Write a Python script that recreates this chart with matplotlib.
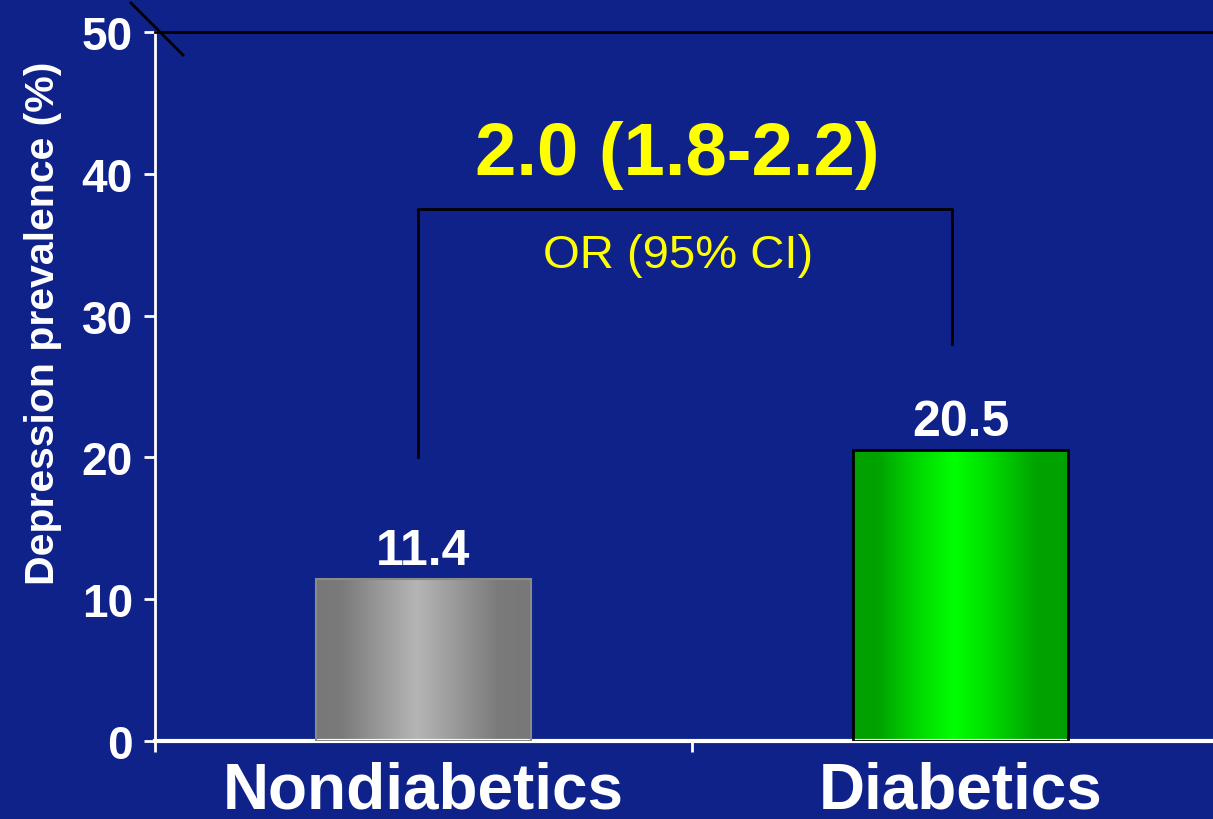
"""
Depression prevalence bar chart: nondiabetics vs diabetics, with odds ratio bracket.
"""
import numpy as np
import matplotlib
matplotlib.use("Agg")

import matplotlib.pyplot as plt
from matplotlib.lines import Line2D

plt.rcParams["font.family"] = ["Liberation Sans", "DejaVu Sans"]

# data
categories = ["Nondiabetics", "Diabetics"]
prevalence = [11.4, 20.5]
y_ticks = [0, 10, 20, 30, 40, 50]
or_text = "2.0 (1.8-2.2)"
or_caption = "OR (95% CI)"
# bracket joining the two groups: x ends and the heights where each leg stops
bracket_x = [-0.01, 0.985]
bracket_top = 37.5
bracket_legs = [20.0, 28.0]

BG = "#0e228a"
YELLOW = "#ffff00"

# horizontal shading profile of each bar (position across bar -> colour)
prof_pos = [0.0, 0.12, 0.30, 0.47, 0.62, 0.85, 1.0]
gray_lvl = [0.47, 0.48, 0.60, 0.71, 0.62, 0.48, 0.47]
green_lvl = [0.63, 0.64, 0.85, 1.00, 0.88, 0.64, 0.63]


def gradient_image(levels, kind):
    xs = np.linspace(0, 1, 256)
    v = np.interp(xs, prof_pos, levels)
    img = np.zeros((1, 256, 3))
    if kind == "gray":
        img[0, :, 0] = v
        img[0, :, 1] = v
        img[0, :, 2] = v
    else:
        img[0, :, 1] = v
    return img


fig = plt.figure(figsize=(12.13, 8.2), dpi=100)
fig.patch.set_facecolor(BG)
ax = fig.add_axes([155 / 1213, 78 / 820, (1229 - 155) / 1213, (742 - 33) / 820])
ax.set_facecolor(BG)

x = np.arange(len(categories))
bars = ax.bar(x, prevalence, width=0.4, facecolor="none", zorder=3)
bars[0].set_edgecolor("#8a8a8a")
bars[0].set_linewidth(1.5)
bars[1].set_edgecolor("black")
bars[1].set_linewidth(2)

for bar, levels, kind in zip(bars, [gray_lvl, green_lvl], ["gray", "green"]):
    x0 = bar.get_x()
    x1 = x0 + bar.get_width()
    im = ax.imshow(gradient_image(levels, kind), extent=[x0, x1, 0, bar.get_height()],
                   aspect="auto", interpolation="bilinear", zorder=2)
    im.set_clip_path(bar)

for xi, val in zip(x, prevalence):
    ax.text(xi, val + 1.1, f"{val:.1f}", ha="center", va="baseline",
            fontsize=36, fontweight="bold", color="white", zorder=4)

# odds ratio bracket
ax.plot([bracket_x[0], bracket_x[0], bracket_x[1], bracket_x[1]],
        [bracket_legs[0], bracket_top, bracket_top, bracket_legs[1]],
        color="black", linewidth=2, zorder=4)
ax.text(0.473, 40.0, or_text, ha="center", va="baseline",
        fontsize=53.5, fontweight="bold", color=YELLOW)
ax.text(0.474, 33.4, or_caption, ha="center", va="baseline",
        fontsize=34, color=YELLOW)

ax.set_xlim(-0.5, 1.5)
ax.set_ylim(0, 50)

ax.set_yticks(y_ticks)
ax.tick_params(axis="y", direction="out", length=8, width=2, color="white",
               labelcolor="white", labelsize=33, pad=8)
for lbl in ax.get_yticklabels():
    lbl.set_fontweight("bold")

ax.set_xticks(x)
ax.set_xticklabels(categories, fontsize=46, fontweight="bold", color="white")
ax.set_xticks([-0.5, 0.5, 1.5], minor=True)
ax.tick_params(axis="x", which="major", length=0, pad=14)
ax.tick_params(axis="x", which="minor", direction="out", length=8, width=2, color="white")

ax.set_ylabel("Depression prevalence (%)", fontsize=29.5, fontweight="bold", color="white")
ax.yaxis.set_label_coords(-0.0866, 0.591)

ax.spines["left"].set_color("white")
ax.spines["left"].set_linewidth(2)
ax.spines["bottom"].set_color("white")
ax.spines["bottom"].set_linewidth(3)
ax.spines["top"].set_color("black")
ax.spines["top"].set_linewidth(2)
ax.spines["right"].set_visible(False)

# stray diagonal stroke through the top-left corner
fig.add_artist(Line2D([131 / 1213, 183 / 1213], [1 - 4 / 820, 1 - 56 / 820],
                      transform=fig.transFigure, color="black", linewidth=2))

fig.savefig("out.png", dpi=100, facecolor=BG)
plt.close(fig)
